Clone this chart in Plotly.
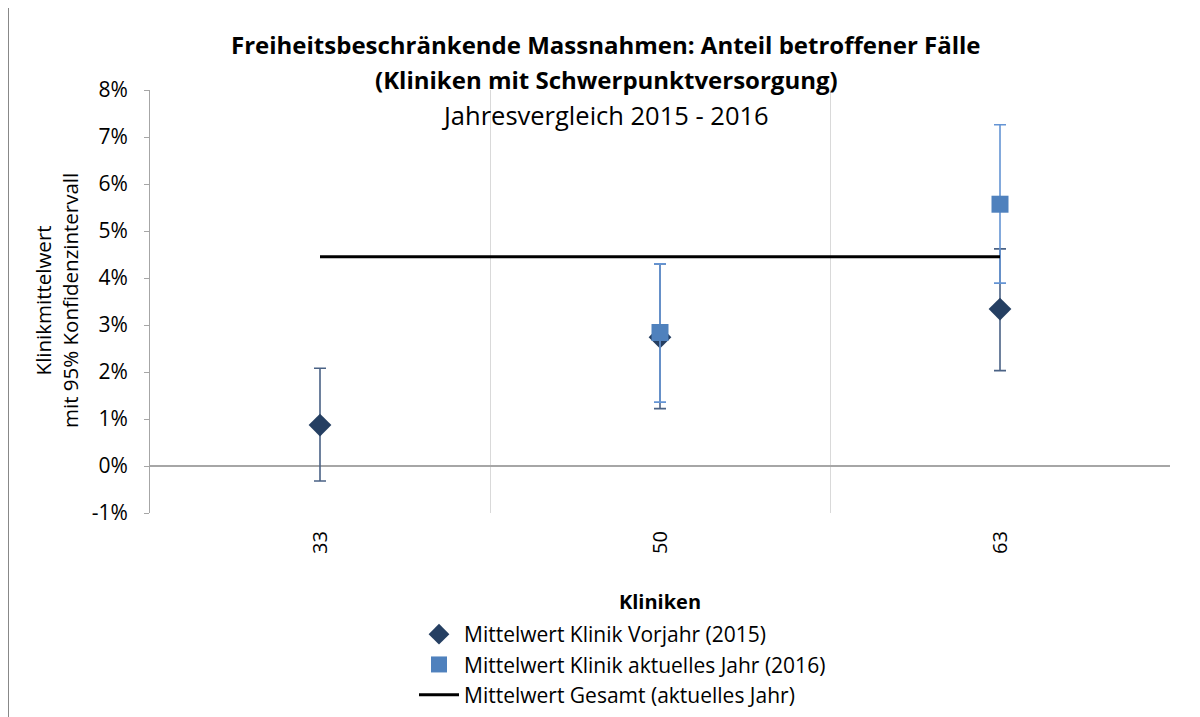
import plotly.graph_objects as go

kliniken = ["33", "50", "63"]
kliniken_2016 = ["50", "63"]

mw_2015 = [0.87, 2.74, 3.34]
ci_hi_2015 = [2.08, 4.30, 4.62]
ci_lo_2015 = [-0.32, 1.22, 2.03]

mw_2016 = [2.84, 5.57]
ci_hi_2016 = [4.30, 7.26]
ci_lo_2016 = [1.36, 3.89]

mw_gesamt = [4.45, 4.45, 4.45]

y_ticks = [-1, 0, 1, 2, 3, 4, 5, 6, 7, 8]
y_ticktext = ["-1%", "0%", "1%", "2%", "3%", "4%", "5%", "6%", "7%", "8%"]

FONT = "Open Sans"
OFF = 8  # page body margin
W, H = 1200 - OFF, 717 - OFF
L, T = 150 - OFF, 90 - OFF
R = W - (1170 - OFF)
B = H - (513 - OFF)
PW, PH = W - L - R, H - T - B

def px2x(px):
    return (px - OFF - L) / PW

def py2y(py):
    return (H - B - (py - OFF)) / PH

def cx(px):
    return (px - OFF) / W

def cy(py):
    return 1 - (py - OFF) / H

fig = go.Figure()

fig.add_trace(go.Scatter(
    x=kliniken, y=mw_2015, mode="markers",
    name="Mittelwert Klinik Vorjahr (2015)",
    marker=dict(symbol="diamond", size=17.5, color="#253F62"),
    error_y=dict(type="data", symmetric=False,
                 array=[h - m for h, m in zip(ci_hi_2015, mw_2015)],
                 arrayminus=[m - l for l, m in zip(ci_lo_2015, mw_2015)],
                 color="#4A6285", thickness=1.6, width=6),
))
fig.add_trace(go.Scatter(
    x=kliniken_2016, y=mw_2016, mode="markers",
    name="Mittelwert Klinik aktuelles Jahr (2016)",
    marker=dict(symbol="square", size=17, color="#4F81BD"),
    error_y=dict(type="data", symmetric=False,
                 array=[h - m for h, m in zip(ci_hi_2016, mw_2016)],
                 arrayminus=[m - l for l, m in zip(ci_lo_2016, mw_2016)],
                 color="#6494D4", thickness=1.6, width=6),
))
fig.add_trace(go.Scatter(
    x=kliniken, y=mw_gesamt, mode="lines",
    name="Mittelwert Gesamt (aktuelles Jahr)",
    line=dict(color="black", width=3),
))

fig.update_layout(
    width=W, height=H,
    margin=dict(l=L, r=R, t=T, b=B, pad=0, autoexpand=False),
    paper_bgcolor="white", plot_bgcolor="white",
    font=dict(family=FONT, size=18, color="black"),
    showlegend=True,
    legend=dict(x=cx(414), y=cy(614), xanchor="left", yanchor="top",
                xref="container", yref="container",
                font=dict(family=FONT, size=21, color="black"),
                bgcolor="rgba(0,0,0,0)", traceorder="normal",
                itemwidth=40),
    xaxis=dict(type="category", categoryorder="array", categoryarray=kliniken,
               range=[-0.5, 2.5], tickson="boundaries", automargin=True,
               showgrid=True, gridcolor="#D9D9D9", gridwidth=1,
               showline=False, ticks="", tickangle=-90,
               ticklabelstandoff=13,
               tickfont=dict(family=FONT, size=20),
               title=dict(text="<b>Kliniken</b>", standoff=42,
                          font=dict(family=FONT, size=20))),
    yaxis=dict(range=[-1, 8], tickmode="array", tickvals=y_ticks,
               ticktext=y_ticktext, automargin=False,
               showgrid=False, zeroline=True, zerolinecolor="#A6A6A6",
               zerolinewidth=1.5,
               showline=True, linecolor="#A6A6A6", linewidth=1,
               ticks="outside", ticklen=5, tickcolor="#A6A6A6",
               ticklabelstandoff=12,
               tickfont=dict(family=FONT, size=21)),
)

# Y-axis title
fig.add_annotation(text="Klinikmittelwert<br>mit 95% Konfidenzintervall",
                   xref="paper", yref="paper", x=px2x(56), y=py2y(301),
                   showarrow=False, xanchor="center", yanchor="middle",
                   textangle=-90,
                   font=dict(family=FONT, size=20.5, color="black"))

# Titles
fig.add_annotation(text="<b>Freiheitsbeschränkende Massnahmen: Anteil betroffener Fälle</b>",
                   xref="paper", yref="paper", x=px2x(606), y=py2y(45),
                   showarrow=False, xanchor="center", yanchor="middle",
                   font=dict(family=FONT, size=24, color="black"))
fig.add_annotation(text="<b>(Kliniken mit Schwerpunktversorgung)</b>",
                   xref="paper", yref="paper", x=px2x(606), y=py2y(80),
                   showarrow=False, xanchor="center", yanchor="middle",
                   font=dict(family=FONT, size=24, color="black"))
fig.add_annotation(text="Jahresvergleich 2015 - 2016",
                   xref="paper", yref="paper", x=px2x(605), y=py2y(115),
                   showarrow=False, xanchor="center", yanchor="middle",
                   font=dict(family=FONT, size=25.5, color="black"))

# Chart-area border (left edge visible)
fig.add_shape(type="line", xref="paper", yref="paper",
              x0=px2x(8.5), x1=px2x(8.5), y0=py2y(717), y1=py2y(0),
              line=dict(color="#888888", width=1), layer="below")

fig.write_html("out.html")
